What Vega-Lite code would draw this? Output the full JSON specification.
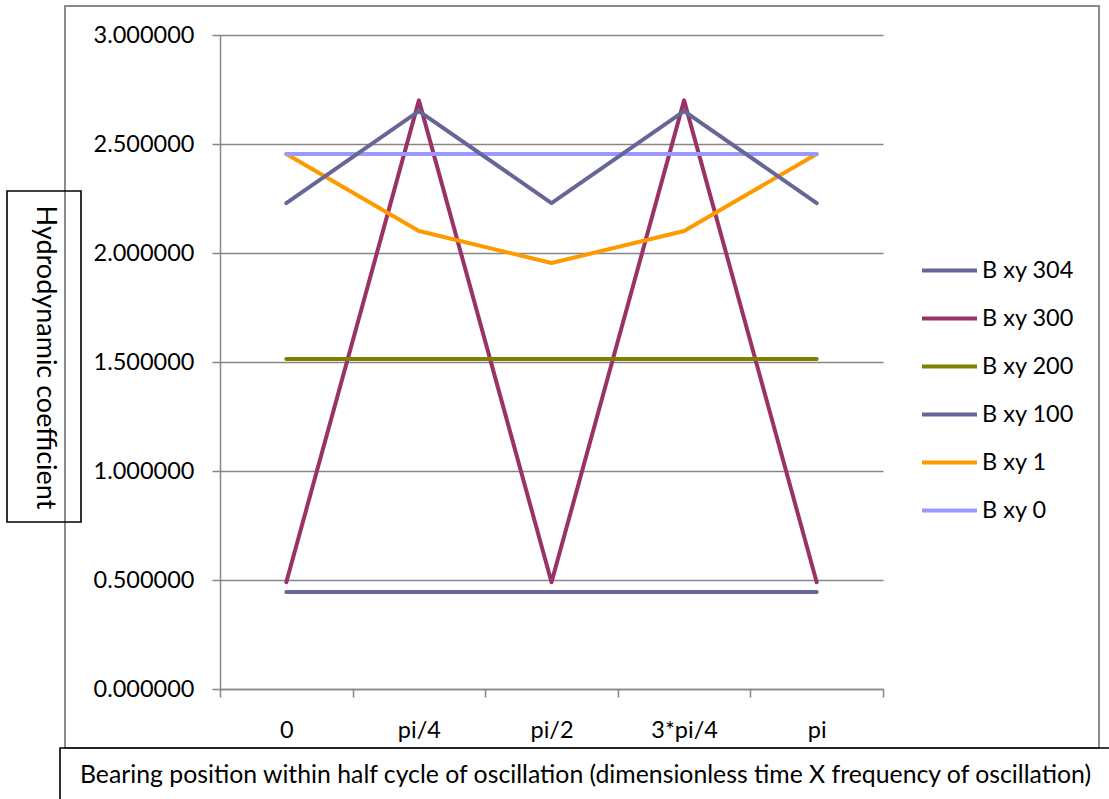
{
  "$schema": "https://vega.github.io/schema/vega-lite/v6.json",
  "autosize": "none",
  "width": 663,
  "height": 654,
  "padding": {"left": 220, "top": 35, "right": 226, "bottom": 110},
  "background": "white",
  "config": {
    "font": "Lato",
    "view": {"stroke": null},
    "axis": {"labelFont": "Lato", "titleFont": "Lato", "labelColor": "black", "titleColor": "black", "titleFontWeight": "normal"},
    "legend": {"labelFont": "Lato"}
  },
  "data": {
    "values": [
      {"series": "B xy 300", "pos": "0", "value": 0.49},
      {"series": "B xy 300", "pos": "pi/4", "value": 2.70},
      {"series": "B xy 300", "pos": "pi/2", "value": 0.49},
      {"series": "B xy 300", "pos": "3*pi/4", "value": 2.70},
      {"series": "B xy 300", "pos": "pi", "value": 0.49},
      {"series": "B xy 200", "pos": "0", "value": 1.514},
      {"series": "B xy 200", "pos": "pi/4", "value": 1.514},
      {"series": "B xy 200", "pos": "pi/2", "value": 1.514},
      {"series": "B xy 200", "pos": "3*pi/4", "value": 1.514},
      {"series": "B xy 200", "pos": "pi", "value": 1.514},
      {"series": "B xy 100", "pos": "0", "value": 0.445},
      {"series": "B xy 100", "pos": "pi/4", "value": 0.445},
      {"series": "B xy 100", "pos": "pi/2", "value": 0.445},
      {"series": "B xy 100", "pos": "3*pi/4", "value": 0.445},
      {"series": "B xy 100", "pos": "pi", "value": 0.445},
      {"series": "B xy 1", "pos": "0", "value": 2.454},
      {"series": "B xy 1", "pos": "pi/4", "value": 2.101},
      {"series": "B xy 1", "pos": "pi/2", "value": 1.954},
      {"series": "B xy 1", "pos": "3*pi/4", "value": 2.101},
      {"series": "B xy 1", "pos": "pi", "value": 2.454},
      {"series": "B xy 0", "pos": "0", "value": 2.454},
      {"series": "B xy 0", "pos": "pi/4", "value": 2.454},
      {"series": "B xy 0", "pos": "pi/2", "value": 2.454},
      {"series": "B xy 0", "pos": "3*pi/4", "value": 2.454},
      {"series": "B xy 0", "pos": "pi", "value": 2.454},
      {"series": "B xy 304", "pos": "0", "value": 2.229},
      {"series": "B xy 304", "pos": "pi/4", "value": 2.651},
      {"series": "B xy 304", "pos": "pi/2", "value": 2.229},
      {"series": "B xy 304", "pos": "3*pi/4", "value": 2.651},
      {"series": "B xy 304", "pos": "pi", "value": 2.229}
    ]
  },
  "encoding": {
    "x": {
      "field": "pos",
      "type": "nominal",
      "sort": ["0", "pi/4", "pi/2", "3*pi/4", "pi"],
      "scale": {"type": "band", "paddingInner": 0, "paddingOuter": 0},
      "axis": {
        "title": "Bearing position within half cycle of oscillation (dimensionless time X frequency of oscillation)",
        "titleFontSize": 24.8,
        "titleX": 365,
        "titleY": 86,
        "titleBaseline": "middle",
        "titleAnchor": "middle",
        "labelAngle": 0,
        "labelFontSize": 23.5,
        "labelPadding": 21,
        "tickBand": "extent",
        "tickSize": 8,
        "tickColor": "#868686",
        "tickWidth": 1.5,
        "domainColor": "#868686",
        "domainWidth": 1.5,
        "grid": false
      }
    },
    "y": {
      "field": "value",
      "type": "quantitative",
      "scale": {"domain": [0, 3], "nice": false, "zero": true},
      "axis": {
        "title": "Hydrodynamic coefficient",
        "titleFontSize": 27,
        "titleAngle": 90,
        "titleX": -176,
        "titleY": 322,
        "titleAlign": "center",
        "titleBaseline": "middle",
        "values": [0, 0.5, 1, 1.5, 2, 2.5, 3],
        "format": ".6f",
        "labelFontSize": 23.5,
        "labelPadding": 18,
        "tickSize": 8,
        "tickColor": "#868686",
        "tickWidth": 1.5,
        "domainColor": "#868686",
        "domainWidth": 1.5,
        "grid": true,
        "gridColor": "#868686",
        "gridWidth": 1.5
      }
    }
  },
  "layer": [
    {
      "mark": {"type": "line", "strokeWidth": 4, "strokeCap": "round", "strokeJoin": "round"},
      "encoding": {
        "color": {
          "field": "series",
          "type": "nominal",
          "scale": {
            "domain": ["B xy 304", "B xy 300", "B xy 200", "B xy 100", "B xy 1", "B xy 0"],
            "range": ["#666699", "#993366", "#808000", "#666699", "#FF9900", "#9999FF"]
          },
          "legend": {
            "title": null,
            "orient": "none",
            "legendX": 700,
            "legendY": 206,
            "symbolType": "stroke",
            "symbolSize": 3025,
            "symbolStrokeWidth": 4,
            "labelFontSize": 23.5,
            "labelOffset": 3,
            "rowPadding": 7,
            "labelColor": "black"
          }
        }
      }
    },
    {
      "mark": {"type": "point", "opacity": 0},
      "encoding": {
        "color": {
          "field": "value",
          "type": "quantitative",
          "scale": {"range": ["rgba(255,255,255,0)", "rgba(255,255,255,0)"]},
          "legend": {
            "title": null,
            "orient": "none",
            "direction": "vertical",
            "legendX": -155,
            "legendY": -29,
            "padding": 0,
            "gradientThickness": 1034,
            "gradientLength": 742,
            "gradientStrokeColor": "#8c8c8c",
            "gradientStrokeWidth": 2,
            "labelExpr": "''",
            "labelOffset": 0
          }
        }
      }
    },
    {
      "mark": {"type": "point", "opacity": 0},
      "encoding": {
        "color": {
          "field": "value",
          "type": "quantitative",
          "scale": {"range": ["rgba(255,255,255,0)", "rgba(255,255,255,0)"]},
          "legend": {
            "title": null,
            "orient": "none",
            "direction": "vertical",
            "legendX": -213,
            "legendY": 156,
            "padding": 0,
            "gradientThickness": 74,
            "gradientLength": 331,
            "gradientStrokeColor": "black",
            "gradientStrokeWidth": 1.6,
            "labelExpr": "''",
            "labelOffset": 0
          }
        }
      }
    },
    {
      "mark": {"type": "point", "opacity": 0},
      "encoding": {
        "color": {
          "field": "value",
          "type": "quantitative",
          "scale": {"range": ["rgba(255,255,255,0)", "rgba(255,255,255,0)"]},
          "legend": {
            "title": null,
            "orient": "none",
            "direction": "horizontal",
            "legendX": -160,
            "legendY": 713,
            "padding": 0,
            "gradientThickness": 70,
            "gradientLength": 1070,
            "gradientStrokeColor": "black",
            "gradientStrokeWidth": 1.6,
            "labelExpr": "''",
            "labelOffset": 0
          }
        }
      }
    }
  ],
  "resolve": {"scale": {"color": "independent"}, "legend": {"color": "independent"}}
}
